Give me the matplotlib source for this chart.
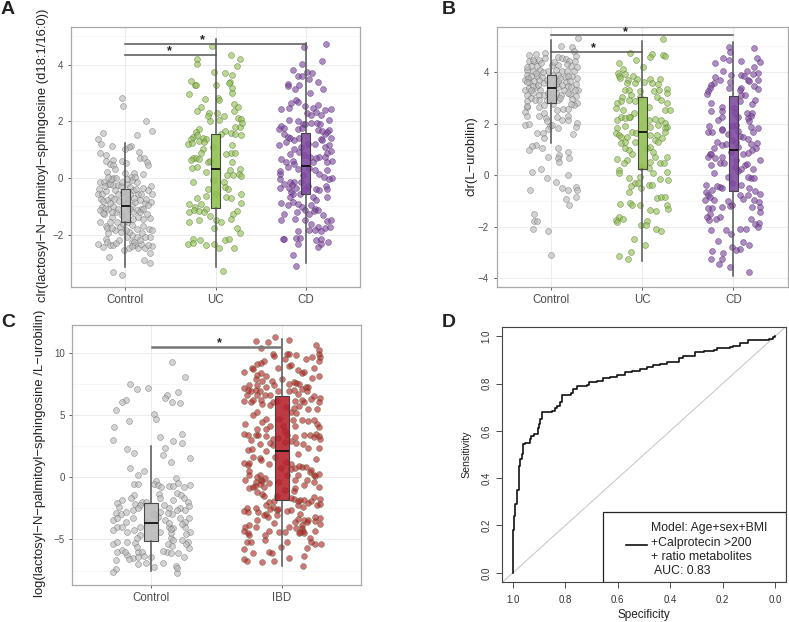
import matplotlib
matplotlib.use("Agg")
import matplotlib.pyplot as plt
from matplotlib.patches import Rectangle
from matplotlib.transforms import ScaledTranslation

plt.rcParams['font.family'] = ['Liberation Sans', 'DejaVu Sans']

# (jitter offset from category, value)
a_control = [(-.03,2.83),(-.02,2.55),(.23,2.02),(.30,1.67),(.13,1.53),(-.25,1.6),(-.30,1.39),(-.27,1.19),(-.15,1.12),(.06,1.14),(.04,1.09),(0,1.01),(-.28,.89),(-.21,.82),(.15,.92),(.16,.72),(.21,.71),(.24,.58),(.25,.46),(-.13,.65),(-.21,.6),(-.17,.5),(-.14,.45),(-.04,.59),(.01,.54),(-.11,.33),(-.2,.22),(-.14,0),(-.1,0),(0,.19),(.1,.19),(.2,.13),(.06,.03),
 (-.28,-.14),(-.24,-.14),(-.29,-.39),(-.3,-.55),(-.26,-.55),(-.27,-.76),(-.21,-.46),(-.19,-.22),(-.13,-.26),(-.08,-.24),(-.11,-.44),(-.16,-.67),(-.08,-.55),(-.2,-.79),(-.26,-1.02),(-.28,-1.14),(-.24,-1.26),(-.19,-1.08),(-.13,-1),(-.1,-1.2),(-.15,-1.38),(-.28,-1.55),(-.21,-1.7),(-.2,-1.75),(-.11,-1.85),(-.06,-1.73),(-.19,-1.96),(-.21,-2.14),(-.3,-2.32),(-.25,-2.43),(-.2,-2.26),(-.17,-2.38),(-.13,-2.38),(-.1,-2.29),(-.07,-2.18),(-.18,-2.8),(-.14,-3.33),(-.04,-3.44),(-.01,-2.53),(.04,-2.46),(.08,-2.26),(.11,-2.38),(.14,-2.46),(.18,-2.32),(.22,-2.49),(.21,-2.88),(.28,-3.01),(.28,-2.64),(.3,-2.41),(.25,-2.35),(.28,-2.08),(.26,-1.81),(.3,-1.82),(.19,-1.96),(.13,-2.08),(.08,-2.02),(.04,-1.91),(.01,-1.82),(-.02,-1.64),(.03,-1.55),(.09,-1.44),(.14,-1.38),(.2,-1.44),(.27,-1.4),(.24,-1.26),(.18,-1.08),(.13,-1.14),(.07,-.96),(.11,-.85),(.16,-.79),(.22,-.9),(.29,-.85),(.25,-.96),(.3,-.55),(.29,-.29),(.25,-.41),(.2,-.34),(.14,-.55),(.09,-.44),(.13,-.14),(.07,-.08),(.11,.04),(.02,-.22),(.05,-.32),(.03,-.73),
 (-.22,-.3),(-.17,-.2),(-.05,-.3),(-.02,-.5),(-.25,-.8),(-.17,-.9),(-.12,-.75),(-.07,-.8),(-.22,-1.05),(-.15,-1.2),(-.08,-1.1),(-.03,-1.3),(.01,-.9),(.05,-1.1),(.09,-1.2),(.16,-1.2),(.2,-1.1),(.23,-.75),(.05,-.55),(.12,-.4),(.17,-.55),(.1,-.7),(-.25,-1.25),(-.17,-1.55),(-.09,-1.55),(-.15,-1.75),(-.05,-1.9),(.08,-1.65),(.13,-1.8),(.2,-1.7),(.1,-2.25),(.16,-2.2),(.07,-2.42),(.02,-2.1),(.22,-2.1),(-.04,-.15),(.02,-.05),(-.16,-.05),(-.19,.05)]
a_uc = [(-.04,4.66),(-.21,4.21),(-.21,4.04),(.17,4.35),(.27,4.21),(.24,3.96),(-.02,3.75),(.1,3.7),(.18,3.64),(-.27,3.44),(-.23,3.29),(-.22,3.28),(.01,3.29),(.16,3.39),(.15,3.35),(.18,3.19),(.18,2.99),(-.29,2.96),(-.12,2.8),(.03,2.84),(.04,2.76),(.2,2.61),(.25,2.51),(-.16,2.52),(-.2,2.36),(.2,2.36),(-.07,2.29),(.02,2.29),(.09,2.18),(-.08,2.18),(.04,2.06),(-.06,2.01),(.25,2.13),(.28,2.09),(.29,1.94),(.27,1.8),(.22,1.8),(-.18,1.74),(-.22,1.62),(.11,1.65),(.17,1.59),(.22,1.56),(.28,1.51),(.06,1.56),(-.25,1.45),(-.21,1.51),(-.27,1.39),(-.14,1.42),(-.1,1.39),(-.3,1.21),(-.26,1.24),(-.18,1.29),(-.13,1.27),(.18,1.18),(-.03,1.09),(-.14,1.04),(-.16,.88),(.17,.88),(.12,.86),(.22,.88),(-.25,.69),(-.22,.72),(-.18,.68),(-.27,.65),(.18,.55),(-.08,.58),(-.06,.6),(-.26,.35),(-.21,.39),(.27,.33),(.16,.29),(-.1,.21),(.13,.09),(.19,.09),(.26,.13),(.28,.06),(-.25,-.13),(-.03,-.08),(.09,-.14),(-.08,-.4),(.11,-.32),(.14,-.38),(.28,-.55),(-.21,-.69),(-.1,-.65),(0,-.55),(.12,-.67),(.17,-.69),(.28,-.88),(-.29,-.91),(-.23,-1.02),(-.16,-.93),(-.1,-1.08),(-.29,-1.2),(-.24,-1.14),(-.18,-1.16),(-.13,-1.2),(-.06,-1.35),(.24,-1.16),(.19,-1.26),(.17,-1.44),(-.29,-1.55),(-.18,-1.49),(.01,-1.49),(.06,-1.55),(.24,-1.75),(.27,-1.96),(-.02,-1.78),(-.25,-2.14),(-.17,-2.2),(-.3,-2.34),(-.25,-2.29),(-.1,-2.35),(-.02,-2.32),(.11,-2.2),(.15,-2.15),(.04,-2.49),(.2,-2.47),(.08,-3.29)]
a_cd = [(.22,4.74),(-.02,4.61),(.18,4.12),(-.04,4.04),(-.14,3.82),(.01,3.75),(.07,3.69),(-.09,3.59),(-.04,3.59),(.04,3.51),(-.2,3.31),(-.2,3.26),(-.07,3.28),(.13,3.39),(-.12,3.13),(.19,3.15),(.05,3),(-.11,2.76),(-.16,2.65),(-.09,2.68),(-.28,2.42),(-.19,2.48),(-.01,2.53),(.08,2.48),(.13,2.56),(.21,2.41),(.28,2.42),(.01,2.29),(.11,2.33),(.06,2.21),(.17,2.21),(-.19,2.06),(-.09,2.01),(-.03,1.92),(.26,2.04),(-.01,1.89),(.06,1.94),(.12,1.95),(.16,1.89),(-.27,1.82),(-.3,1.74),(-.24,1.76),(-.09,1.74),(-.04,1.76),(.26,1.71),(.14,1.71),(.24,1.62),(-.24,1.54),(.21,1.56),(-.2,1.45),(-.17,1.42),(.28,1.42),(.17,1.39),(.18,1.35),(-.22,1.27),(-.13,1.33),(-.3,1.18),(.26,1.15),(.1,1.21),(.21,1.09),(-.13,1.04),(-.05,1.09),(.28,.95),(.24,.88),(-.18,.84),(.15,.74),(.11,.71),(.21,.74),(-.28,.68),(-.22,.56),(-.14,.6),(-.13,.51),(.29,.6),(.24,.56),(-.2,.39),(-.09,.33),(-.29,.25),(-.29,.13),(.1,.27),(.15,.15),(.24,.27),(.29,.01),(.26,-.02),(-.29,-.02),(-.13,-.14),(-.18,-.14),(-.05,-.14),(-.24,-.2),(-.15,-.26),(-.29,-.35),(-.19,-.34),(-.11,-.34),(-.01,-.38),(.22,-.29),(.24,-.38),(.11,-.38),(.15,-.44),(-.16,-.49),(-.14,-.58),(-.18,-.67),(.24,-.67),(.08,-.67),(.11,-.79),(-.27,-.88),(-.14,-.85),(-.09,-.93),(-.04,-1.02),(-.01,-1.12),(.1,-1.08),(.14,-1.12),(-.24,-1.26),(.04,-1.26),(.09,-1.16),(-.27,-1.49),(-.12,-1.44),(-.01,-1.49),(.24,-1.52),(.28,-1.49),(.06,-1.64),(.13,-1.73),(.21,-1.75),(.27,-1.73),(.03,-1.85),(-.09,-1.88),(.1,-1.82),(.17,-1.87),(-.25,-2.14),(-.24,-2.14),(-.11,-2.11),(-.06,-2.13),(.11,-2.18),(.17,-2.14),(.25,-2.25),(-.09,-2.32),(.17,-2.32),(.14,-2.45),(-.14,-2.71),(-.11,-3.11),
 (.02,1.2),(-.02,.8),(.03,.35),(-.03,.1),(.02,-.3),(.18,1.65),(-.07,1.4),(.05,.75),(-.08,.9),(.08,.55),(.2,.05),(-.06,-.55),(.06,-.95),(.19,-1.3),(-.2,-.95),(-.1,-1.2)]

b_control = [(.29,5.31),(.11,5),(.23,4.96),(.25,4.83),(-.07,4.74),(-.24,4.66),(-.17,4.7),(.27,4.64),(.07,4.58),(.12,4.55),(.16,4.51),(-.24,4.43),(-.19,4.42),(-.13,4.48),(-.07,4.55),(.2,4.44),(.26,4.42),(-.22,4.22),(-.15,4.25),(.01,4.29),(.08,4.29),(.22,4.22),(.28,4.19),(-.26,4.09),(-.2,4.03),(-.12,4.09),(-.04,4.03),(.05,4.09),(.12,4.06),(.17,4.03),(-.27,3.9),(-.22,3.83),(-.15,3.86),(-.1,3.81),(.08,3.9),(.15,3.81),(.23,3.86),(.28,3.77),(-.29,3.7),(-.24,3.6),(-.19,3.64),(-.13,3.7),(-.08,3.57),(.08,3.64),(.16,3.6),(.21,3.66),(.27,3.55),(-.29,3.31),(-.24,3.38),(-.17,3.42),(-.12,3.31),(.08,3.42),(.14,3.31),(.19,3.44),(.29,3.31),(-.26,3.12),(-.2,3.18),(-.13,3.12),(-.08,3.12),(.11,3.12),(.21,3.14),(.27,3.08),(-.22,2.99),(-.13,2.92),(.08,2.92),(.23,2.95),(.28,2.79),(-.26,2.86),(-.27,2.66),(-.13,2.64),(-.08,2.73),(.25,2.73),(-.29,2.44),(-.26,2.3),(-.13,2.31),(-.08,2.4),(-.06,2.23),(.06,2.53),(.13,2.56),(.18,2.56),(.06,2.25),(.19,2.3),(.12,2.12),(.18,2.12),(-.29,1.95),(-.24,1.99),(-.05,2.08),(.28,2.01),(.27,1.88),(-.01,1.91),(-.04,1.79),(.07,1.82),(-.16,1.62),(-.09,1.62),(-.08,1.43),(.24,1.58),(.01,1.95),(-.17,1.17),(-.21,1.13),(-.24,.97),(-.1,1.04),(.07,1.04),(.18,.88),(.09,.78),(-.04,.71),(.08,.65),(.2,.68),(.09,.52),(-.21,.13),(-.11,.25),(.19,-.01),(-.05,-.13),(.05,-.26),(-.23,-.58),(.12,-.52),(.19,-.57),(.27,-.48),(.28,-.58),(.27,-.86),(.16,-.94),(.2,-1.16),(-.19,-1.53),(-.19,-1.79),(-.15,-1.79),(-.2,-2.08),(-.03,-2.17),(0,-3.1),
 (-.2,4.45),(-.27,4.2),(-.11,4.35),(.03,4.4),(.17,4.3),(.25,4.05),(-.09,4.0),(.02,3.9),(.1,3.75),(.19,3.85),(-.17,3.98),(-.25,3.78),(-.2,3.45),(-.05,3.7),(.05,3.55),(.22,3.4),(-.26,3.6),(-.14,3.5),(.12,3.5),(.26,3.3),(-.22,3.3),(-.03,3.2),(.05,3.2),(.18,3.2),(.22,2.75),(.1,3.0),(.03,3.0),(-.18,2.9),(-.27,2.7),(-.05,2.9),(.02,2.75)]
b_uc = [(.23,5.29),(-.13,4.74),(.11,4.7),(.08,4.58),(.23,4.66),(.25,4.61),(-.07,4.48),(-.25,4.36),(.01,4.18),(-.21,4.13),(-.27,3.96),(-.19,3.94),(-.26,3.86),(-.24,3.77),(-.1,3.86),(-.16,3.7),(-.06,3.73),(.09,3.73),(.19,3.73),(-.17,3.57),(-.08,3.57),(.02,3.6),(.11,3.57),(.17,3.55),(-.19,3.31),(-.15,3.29),(-.03,3.25),(.27,3.34),(.13,3.25),(.18,3.31),(.27,3.18),(-.22,3.05),(-.12,3.12),(-.03,3.03),(.16,3.05),(.21,2.92),(-.23,2.88),(-.15,2.92),(-.28,2.79),(-.08,2.86),(.27,2.79),(.07,2.64),(-.29,2.62),(-.21,2.51),(.25,2.51),(.3,2.53),(-.09,2.4),(-.13,2.27),(-.23,2.27),(-.19,2.21),(-.28,2.14),(-.15,2.25),(.07,2.14),(.14,2.17),(.21,2.12),(-.28,1.82),(-.19,1.91),(.25,2.01),(.17,1.95),(.08,1.88),(.27,1.88),(-.29,1.62),(-.25,1.56),(-.11,1.69),(-.07,1.62),(.25,1.82),(.16,1.56),(.09,1.56),(.25,1.66),(-.23,1.47),(-.17,1.49),(.22,1.43),(-.23,1.23),(-.19,1.3),(-.08,1.3),(.14,1.36),(.17,1.3),(.05,1.04),(-.19,1.04),(-.15,.97),(.09,1.1),(-.11,.81),(.12,.88),(-.28,.61),(.27,.69),(-.17,.58),(-.2,.48),(.08,.52),(.19,.48),(.24,.45),(.14,.71),(-.26,.19),(-.25,.06),(-.01,.32),(.07,.26),(.12,.06),(.27,.1),(-.14,-.13),(-.03,-.06),(-.08,-.3),(-.05,-.32),(-.01,-.49),(.28,-.19),(.2,-.17),(.07,-.4),(.11,-.39),(-.12,-.43),(-.14,-.66),(.16,-.9),(.21,-.87),(.25,-.87),(-.24,-1.13),(-.13,-1.1),(-.11,-1.18),(-.03,-1.18),(.27,-1.16),(.28,-1.32),(.09,-1.36),(.15,-1.39),(-.26,-1.62),(-.29,-1.73),(-.28,-1.81),(-.21,-1.7),(.05,-1.78),(-.01,-1.96),(.04,-1.94),(.15,-2.09),(.21,-2.17),(-.09,-2.47),(.03,-2.71),(-.12,-2.99),(-.25,-3.14),(-.16,-3.25)]
b_cd = [(-.05,4.99),(.23,4.94),(-.04,4.77),(-.11,4.55),(-.05,4.48),(.26,4.55),(.08,4.44),(.29,4.39),(-.2,4.35),(.23,4.18),(-.11,4.05),(.15,4.03),(-.03,3.9),(.08,3.87),(.27,3.96),(.22,3.94),(.12,3.86),(-.2,3.81),(-.15,3.68),(.16,3.68),(.17,3.66),(.27,3.7),(-.04,3.6),(-.21,3.57),(-.24,3.51),(-.26,3.38),(-.28,3.25),(-.29,3.16),(-.05,3.38),(.08,3.38),(.07,3.29),(.23,3.47),(.27,3.34),(.08,3.12),(.24,2.92),(.07,2.86),(-.24,2.79),(-.12,2.66),(.01,2.6),(-.24,2.47),(-.12,2.47),(.15,2.4),(.21,2.4),(.19,2.31),(.16,2.21),(-.17,2.14),(-.12,2.27),(.17,2.08),(.05,2.27),(-.27,1.91),(.03,1.95),(.19,1.86),(.27,1.82),(-.12,1.78),(-.28,1.69),(-.23,1.66),(-.06,1.6),(-.12,1.73),(.22,1.69),(.07,1.52),(.11,1.47),(.16,1.39),(-.01,1.36),(-.18,1.3),(.26,1.26),(.19,1.21),(.05,1.1),(-.12,1.17),(-.21,1.04),(.25,1.04),(.21,.97),(-.26,.82),(-.24,.82),(-.28,.71),(-.2,.65),(.16,.84),(-.13,.71),(.29,.58),(.03,.58),(-.25,.39),(-.15,.48),(-.1,.45),(.13,.39),(.15,.43),(.08,.22),(.22,.22),(.05,.17),(-.21,.06),(.19,-.13),(.23,-.13),(.16,-.06),(-.06,-.06),(-.3,-.39),(-.15,-.45),(-.18,-.43),(-.23,-.58),(-.12,-.52),(.08,-.39),(.17,-.52),(.24,-.61),(-.3,-.65),(-.28,-.78),(-.26,-.84),(.29,-.74),(.07,-.78),(.16,-.78),(.11,-.95),(.23,-.97),(-.31,-.97),(-.21,-.97),(-.06,-1),(.28,-1.04),(-.01,-1.17),(-.04,-1.21),(.2,-1.26),(.29,-1.26),(-.23,-1.3),(-.28,-1.3),(-.12,-1.23),(.29,-1.43),(-.26,-1.52),(-.29,-1.62),(-.15,-1.62),(-.19,-1.69),(-.27,-1.75),(.19,-1.71),(.28,-1.88),(.24,-1.91),(.27,-2.01),(.07,-2.08),(.14,-2.08),(-.25,-2.14),(-.08,-2.12),(-.03,-2.3),(-.17,-2.57),(.11,-2.6),(.17,-2.73),(-.02,-2.79),(.07,-2.86),(.03,-2.9),(-.23,-2.95),(-.11,-3.01),(-.12,-3.25),(-.24,-3.27),(-.16,-3.44),(-.04,-3.57),(.17,-3.76),
 (.02,2.4),(-.02,1.9),(.03,1.3),(-.03,.9),(.02,.3),(-.02,-.3),(.13,3.1),(.2,2.75),(.05,1.7),(-.08,1.2),(.11,.8)]

c_control = [(.16,9.2),(.26,8.02),(-.16,7.49),(-.11,7.11),(-.02,7.19),(.21,6.84),(.12,6.58),(.11,6.36),(-.19,6.2),(-.22,5.99),(.16,6.02),(.22,5.91),(-.27,5.35),(.02,5.08),(.04,4.63),(-.17,4.49),(-.28,4.04),(.24,3.5),(.07,3.24),(-.29,2.99),(.17,2.89),(.24,2.75),(-.18,2.22),(.11,2.35),(-.13,1.93),(.09,1.76),(.3,1.5),(.15,1.18),(-.16,.7),(-.05,.51),(-.1,.13),(.19,-.05),(-.13,-.53),(-.1,-.56),(.04,-.32),(.02,-.59),(.05,-.64),(.08,-.8),(.14,-.7),(.17,-.7),(.21,-.51),(.25,-.83),(.3,-.64),(-.13,-1.44),(-.15,-1.66),(-.22,-1.84),(-.26,-2.11),(-.07,-1.98),(-.04,-1.98),(.06,-1.36),(.07,-1.71),(.2,-1.31),(.17,-1.84),(.23,-1.44),(.25,-1.71),(.28,-1.98),(-.12,-2.19),(-.08,-2.25),(-.24,-2.38),(-.27,-2.91),(-.23,-2.99),(-.19,-2.78),(-.14,-2.65),(-.1,-2.51),(.1,-2.25),(.14,-2.51),(.07,-2.78),(.22,-2.46),(.26,-2.65),(.29,-2.3),(.16,-2.99),(-.29,-3.45),(-.26,-3.32),(-.19,-3.58),(-.14,-3.32),(.11,-3.45),(.22,-3.32),(.29,-3.26),(.26,-3.58),(-.26,-3.98),(-.29,-4.25),(-.22,-3.98),(-.18,-4.39),(-.13,-4.25),(-.08,-3.98),(.14,-3.98),(.17,-4.12),(.3,-4.39),(.26,-3.98),(.07,-4.39),(-.29,-5.37),(-.26,-5.24),(-.18,-5.24),(-.12,-5.32),(-.08,-4.65),(.15,-4.92),(.17,-5.05),(.24,-5.05),(.28,-5.24),(.29,-5.72),(-.26,-5.99),(-.22,-5.86),(-.1,-5.99),(-.07,-5.99),(.12,-5.99),(.15,-6.12),(.21,-6.12),(.25,-6.39),(-.18,-6.26),(-.14,-6.52),(-.1,-6.39),(-.05,-6.31),(0,-6.39),(-.27,-6.66),(.09,-6.93),(-.17,-6.58),(-.04,-6.93),(-.1,-7.0),(.02,-7.19),(.19,-7.11),(-.27,-7.41),(-.29,-7.62),(.2,-7.7),(.2,-7.33),
 (.14,-3.7),(.15,-4.5),(.13,-5.4),(.16,-5.5),(.15,-4.2),(-.11,-5.6),(-.11,-4.9),(.05,-3.2),(.02,-3),(-.03,-3.6),(.24,-3.8),(.27,-4.6),(.27,-5.4),(.09,-5.9),(-.2,-6.05),(.13,-2.9),(.2,-2.65)]
c_ibd = [(-.05,11.28),(.05,11.04),(-.2,10.91),(-.11,10.83),(.26,10.61),(-.16,10.4),(.28,10.19),(.28,9.92),(-.07,9.92),(.04,9.87),(-.06,9.71),(.05,9.87),(.11,9.84),(.02,9.52),(.18,9.52),(.23,9.65),(.29,9.65),(.28,9.3),(-.14,9.33),(-.19,9.04),(-.16,9.12),(.05,8.93),(.07,8.98),(-.03,8.72),(-.23,8.72),(-.22,8.66),(.24,8.72),(.12,8.58),(-.29,8.42),(-.16,8.37),(.17,8.45),(.15,8.32),(-.19,8.18),(-.12,8.13),(.28,8.1),(-.2,7.86),(0,7.86),(.23,7.97),(-.15,7.7),(.09,7.65),(.11,7.59),(-.06,7.43),(-.25,7.43),(-.19,7.38),(-.29,7.17),(-.12,7.25),(.18,7.25),(.2,7.25),(.15,7.11),(-.26,7.0),(-.24,6.9),(-.17,6.9),(-.03,6.9),(.05,6.9),(.09,6.98),(-.27,6.63),(-.19,6.63),(-.13,6.58),(.24,6.52),(.29,6.39),(-.29,6.12),(-.24,5.99),(-.22,6.18),(-.16,6.18),(.15,6.18),(.17,5.99),(.28,5.99),(-.09,5.78),(.09,5.51),(.2,5.45),(.27,5.45),(-.19,5.19),(-.22,4.97),(.07,5.24),(.11,5.11),(-.12,4.65),(-.15,4.39),(.15,4.57),(.2,4.49),(.24,4.57),(.27,4.3),(-.28,4.25),(-.12,3.9),(.28,4.04),(-.19,3.85),(-.29,3.5),(-.26,3.42),(-.2,3.37),(-.12,3.32),(.02,3.69),(.17,3.42),(.21,3.42),(.26,3.5),(.28,3.32),(.24,3.24),(.29,3.05),(-.24,2.94),(-.07,3.05),(.07,2.89),(-.17,2.62),(-.09,2.7),(.11,2.7),(.16,2.67),(.2,2.3),(.28,2.3),(-.26,2.17),(-.23,2.25),(-.12,2.09),(.12,1.84),(.26,1.44),(-.17,1.5),(-.16,1.36),(-.29,1.15),(-.26,.96),(-.1,1.04),(.07,1.04),(.1,.75),(.15,.83),(.18,.78),(-.25,.51),(-.25,.16),(.07,.64),(.21,.43),(.28,.24),(-.19,.03),(-.17,.16),(.12,.16),(.24,.16),(-.28,-.24),(-.2,-.37),(-.16,-.24),(-.1,-.51),(.19,-.24),(.24,-.37),(.17,-.64),(-.25,-.86),(-.22,-.78),(-.14,-.78),(.1,-.86),(.28,-.78),(.09,-1.12),(-.19,-1.18),(-.15,-1.39),(.24,-1.58),(.09,-1.79),(.14,-1.84),(.29,-1.79),(-.1,-2.03),(.29,-2.17),(.2,-2.11),(.12,-2.25),(.16,-2.38),(-.2,-2.46),(-.07,-2.38),(-.27,-2.46),(-.04,-2.65),(.04,-2.7),(.07,-2.65),(-.29,-2.73),(-.26,-2.83),(-.18,-2.83),(-.12,-2.99),(-.04,-3.05),(.14,-2.99),(.25,-3.18),(.29,-3.32),(.1,-3.58),(.17,-3.45),(.2,-3.45),(-.19,-3.45),(-.06,-3.72),(.15,-3.85),(.29,-3.8),(-.25,-3.85),(-.28,-3.98),(.05,-3.98),(.11,-4.12),(.14,-4.39),(-.1,-4.3),(-.29,-4.3),(-.25,-4.65),(-.02,-4.44),(.02,-4.39),(.25,-4.3),(-.13,-4.65),(-.24,-5.24),(-.13,-5.05),(.22,-5.24),(.25,-5.4),(.3,-5.37),(.04,-5.24),(-.27,-5.24),(-.01,-5.64),(.19,-5.72),(-.29,-5.78),(-.1,-5.99),(-.08,-6.07),(-.22,-6.07),(.17,-6.34),(.05,-6.52),(-.29,-6.6),(-.27,-6.74),(-.06,-6.71),(-.15,-6.84),(.16,-7.14),
 (-.04,6.1),(.03,5.6),(-.02,4.7),(.01,4.1),(.04,3.4),(-.03,3.1),(.02,2.85),(-.05,1.6),(.03,1.2),(-.01,.7),(.04,.2),(-.03,-.4),(.02,-1),(-.04,-1.5),(.05,7.5),(-.08,7.7),(.13,7.5),(.19,6.9),(.12,6.7),(.22,6.3),(-.2,7.0),(-.09,6.6),(-.07,6.0),(.1,6.1),(.13,5.7),(-.15,5.9),(.08,4.6),(.1,4.1),(-.09,4.1),(-.18,3.4),(.1,3.2),(-.07,2.6),(-.22,1.6),(-.25,1.1),(.13,.9),(.22,.6),(.25,.1),(.1,-.2),(-.13,-.1),(-.15,-.35),(-.21,-.7),(-.17,-.55),(.07,-1.7),(.12,-1.95),(.17,-1.8),(.22,-1.9),(.27,-2.2),(-.14,-1.5),(-.06,-1.9),(-.12,-2.2),(-.09,-2.55),(-.03,-2.55),(-.14,-3.05),(-.11,-3.2),(.12,-3.4),(.19,-3.6),(.15,-4.1),(.13,-4.5),(.17,-4.5),(.16,-4.3),(-.2,-4.0),(-.26,-4.5),(.25,-3.5),(.21,-4.9)]

# box stats: whisker low, q1, median, q3, whisker high
a_boxes = [(-3.15,-1.55,-1.0,-0.4,1.25),(-3.15,-1.05,.33,1.56,4.9),(-3.0,-.55,.43,1.6,4.75)]
b_boxes = [(1.23,2.78,3.39,3.88,5.25),(-3.35,.22,1.66,3.05,5.2),(-3.92,-.62,.97,3.07,5.15)]
c_boxes = [(-7.5,-5.16,-3.69,-2.11,2.46),(-7.1,-1.82,2.11,6.5,11.1)]

labels_3 = ['Control', 'UC', 'CD']
labels_2 = ['Control', 'IBD']
grey, green, purple, red = '#b8b8b8', '#8fc04f', '#7d469f', '#b5202a'

# ROC curve, (specificity, sensitivity)
roc_spec = [1.0,1.0,.995,.99,.983,.978,.973,.965,.96,.953,.935,.93,.92,.905,.9,.895,.89,.889,.85,.84,.83,.82,.812,.78,.77,.756,.718,.71,.68,.655,.63,.604,.572,.545,.515,.49,.464,.44,.413,.368,.35,.318,.305,.27,.235,.222,.172,.16,.133,.102,.06,.025,.01,0]
roc_sens = [0,.18,.24,.29,.35,.45,.48,.5,.545,.55,.565,.58,.585,.61,.63,.65,.665,.68,.685,.695,.705,.72,.753,.76,.775,.788,.795,.805,.81,.823,.828,.834,.848,.853,.86,.87,.878,.884,.89,.907,.915,.918,.935,.938,.943,.95,.955,.96,.972,.982,.983,.989,.995,1.0]

W, H = 789, 622
fig = plt.figure(figsize=(W / 100, H / 100), dpi=100)


def add_ax(left, top, right, bottom):
    return fig.add_axes([left / W, 1 - bottom / H, (right - left) / W, (bottom - top) / H])


def box_panel(ax, groups, colors, boxes, labels, ylim, yticks, minor, ylabel, label_x, first_shift):
    ax.set_axisbelow(True)
    ax.set_xlim(0.4, len(groups) + 0.6)
    ax.set_ylim(*ylim)
    positions = list(range(1, len(groups) + 1))
    for pos, pts, col, edge in zip(positions, groups, colors, ['#666666', '#4f6b2c', '#4a2a63', '#6b1a20']):
        ax.scatter([pos + p[0] for p in pts], [p[1] for p in pts], s=18, color=col, alpha=.62,
                   edgecolors=edge, linewidths=.45, zorder=2)
    stats = [dict(whislo=b[0], q1=b[1], med=b[2], q3=b[3], whishi=b[4]) for b in boxes]
    art = ax.bxp(stats, positions=positions, widths=.1, patch_artist=True, showcaps=False, showfliers=False,
                 manage_ticks=False, zorder=3,
                 boxprops=dict(edgecolor='#333333', linewidth=.8),
                 whiskerprops=dict(color='#555555', linewidth=1.1),
                 medianprops=dict(color='#111111', linewidth=1.3))
    for patch, col in zip(art['boxes'], colors):
        patch.set_facecolor(col)
        patch.set_alpha(.88)
    ax.set_xticks(positions, labels, fontsize=8.3, color='#4d4d4d')
    # category labels in the reference sit a little right of their ticks
    lab = ax.get_xticklabels()[0]
    lab.set_transform(lab.get_transform() + ScaledTranslation(first_shift / 72, 0, fig.dpi_scale_trans))
    ax.set_yticks(yticks)
    ax.set_yticks(minor, minor=True)
    ax.tick_params(axis='y', labelsize=7, labelcolor='#4d4d4d', color='#444444', length=2, width=.6)
    ax.tick_params(axis='x', color='#444444', length=2, width=.6, pad=3)
    ax.tick_params(axis='y', which='minor', length=0)
    ax.grid(True, which='major', color='#ececec', linewidth=.7)
    ax.grid(True, which='minor', axis='y', color='#f3f3f3', linewidth=.5)
    for s in ax.spines.values():
        s.set_color('#a9a9a9')
        s.set_linewidth(.9)
    pos = ax.get_position()
    fig.text(label_x / W, (pos.y0 + pos.y1) / 2 + 0.002, ylabel, rotation=90, fontsize=9.4, color='#222222',
             ha='center', va='center')


def bracket(ax, x0, x1, y, star_x, star_y, lw=1.1, color='#555555'):
    ax.plot([x0, x1], [y, y], color=color, linewidth=lw, zorder=4)
    ax.text(star_x, star_y, '*', fontsize=9, ha='center', va='center', color='#222222', fontweight='bold', zorder=5)


ax_a = add_ax(71, 27, 360, 287)
box_panel(ax_a, [a_control, a_uc, a_cd], [grey, green, purple], a_boxes, labels_3, (-3.85, 5.33),
          [-2, 0, 2, 4], [-3, -1, 1, 3, 5], 'clr(lactosyl\u2212N\u2212palmitoyl\u2212sphingosine (d18:1/16:0))', 43, 4)
bracket(ax_a, 1, 3, 4.74, 1.85, 4.87)
bracket(ax_a, 1, 2, 4.33, 1.49, 4.46)

ax_b = add_ax(496.5, 27, 788, 287)
box_panel(ax_b, [b_control, b_uc, b_cd], [grey, green, purple], b_boxes, labels_3, (-4.35, 5.75),
          [-4, -2, 0, 2, 4], [-3, -1, 1, 3, 5], 'clr(L\u2212urobilin)', 471, 3.5)
bracket(ax_b, 1, 3, 5.42, 1.82, 5.56)
bracket(ax_b, 1, 2, 4.79, 1.46, 4.93)

ax_c = add_ax(72.3, 324.5, 360.7, 585)
box_panel(ax_c, [c_control, c_ibd], [grey, red], c_boxes, labels_2, (-8.66, 12.25),
          [-5, 0, 5, 10], [-7.5, -2.5, 2.5, 7.5], 'log(lactosyl\u2212N\u2212palmitoyl\u2212sphingosine /L\u2212urobilin)', 40, 2.5)
bracket(ax_c, 1.01, 1.99, 10.43, 1.52, 10.75, lw=1.8, color='#777777')

ax_d = add_ax(502.3, 326.7, 785.7, 582.3)
ax_d.plot([1.04, -.04], [-.04, 1.04], color='#c4c4c4', linewidth=.7)
ax_d.plot(roc_spec, roc_sens, color='#111111', linewidth=1.2, drawstyle='steps-post')
ax_d.set_xlim(1.04, -.04)
ax_d.set_ylim(-.04, 1.04)
ticks_d = [0, .2, .4, .6, .8, 1.0]
ax_d.set_xticks(ticks_d, ['%.1f' % t for t in ticks_d], fontsize=7, color='#333333')
ax_d.set_yticks(ticks_d, ['%.1f' % t for t in ticks_d], fontsize=7, color='#333333', rotation=90, va='center')
ax_d.tick_params(length=4, width=.6, color='#333333', pad=4)
ax_d.tick_params(axis='x', pad=5)
ax_d.set_xlabel('Specificity', fontsize=8.5, labelpad=3, color='#222222')
ax_d.set_ylabel('Sensitivity', fontsize=7.6, labelpad=7, color='#222222')
for s in ax_d.spines.values():
    s.set_color('#444444')
    s.set_linewidth(.8)
ax_d.add_patch(Rectangle((.658, -.04), -.698, .296, facecolor='white', edgecolor='#222222', linewidth=.9, zorder=3))
ax_d.plot([.57, .49], [.118, .118], color='#111111', linewidth=1.2, zorder=4)
legend_lines = ['Model: Age+sex+BMI', '+Calprotecin >200', '+ ratio metabolites']
for txt, y in zip(legend_lines, [.19, .128, .066]):
    ax_d.text(.475, y, txt, fontsize=8.8, va='center', ha='left', color='#222222', zorder=4)
ax_d.text(.46, .006, 'AUC: 0.83', fontsize=8.8, va='center', ha='left', color='#222222', zorder=4)

for letter, x, y in [('A', 1, 14), ('B', 442, 14), ('C', 1, 327), ('D', 442, 327)]:
    fig.text(x / W, 1 - y / H, letter, fontsize=14, fontweight='bold', color='#222222', ha='left', va='baseline')

fig.savefig('out.png', dpi=100)
